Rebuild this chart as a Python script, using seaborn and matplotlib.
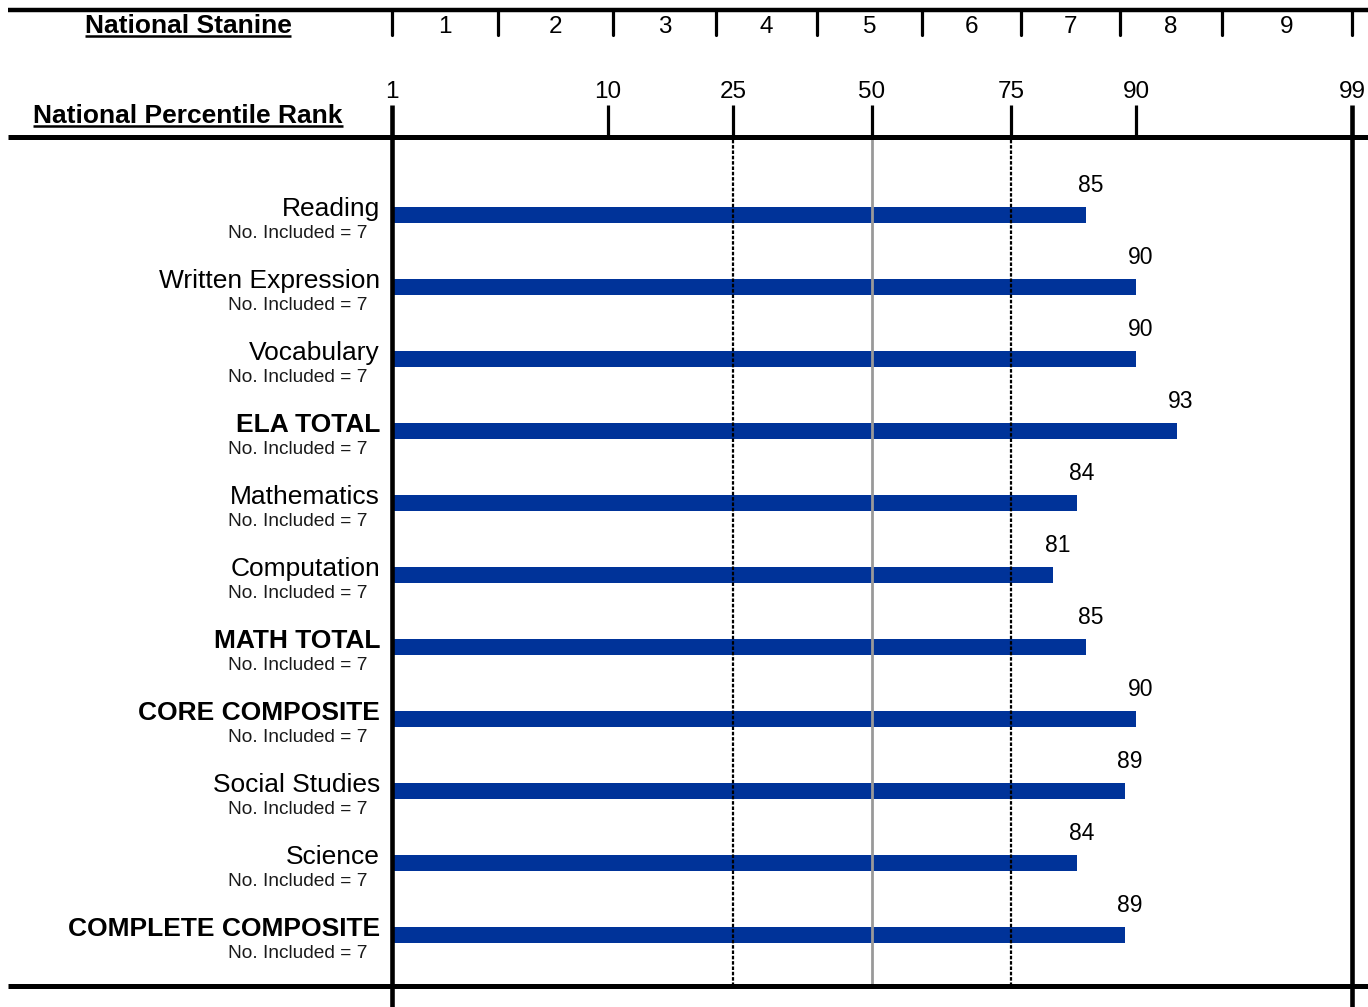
import numpy as np
import pandas as pd
import matplotlib
matplotlib.use("Agg")
import matplotlib.pyplot as plt
from matplotlib import transforms
from matplotlib.lines import Line2D
import seaborn as sns
from statistics import NormalDist

# ---------------- data ----------------
categories = ["Reading", "Written Expression", "Vocabulary", "ELA TOTAL",
              "Mathematics", "Computation", "MATH TOTAL", "CORE COMPOSITE",
              "Social Studies", "Science", "COMPLETE COMPOSITE"]
values = [85, 90, 90, 93, 84, 81, 85, 90, 89, 84, 89]
is_total = [False, False, False, True, False, False, True, True, False, False, True]
n_included = [7, 7, 7, 7, 7, 7, 7, 7, 7, 7, 7]
pr_ticks = [1, 10, 25, 50, 75, 90, 99]
stanine_bounds = [1, 3.5, 10.5, 22.5, 39.5, 59.5, 76.5, 88.5, 95.5, 99]
stanine_labels = ["1", "2", "3", "4", "5", "6", "7", "8", "9"]

BAR = "#003399"
W, H = 1368, 1007

sns.set_style("white")
plt.rcParams["font.family"] = ["Liberation Sans", "DejaVu Sans"]

_nd = NormalDist()
_ppf = np.vectorize(_nd.inv_cdf, otypes=[float])
_cdf = np.vectorize(_nd.cdf, otypes=[float])


def fwd(p):
    p = np.clip(np.asarray(p, dtype=float) / 100.0, 1e-7, 1 - 1e-7)
    return _ppf(p)


def inv(z):
    return _cdf(np.asarray(z, dtype=float)) * 100.0


fig = plt.figure(figsize=(W / 100, H / 100), dpi=100)
ax = fig.add_axes([392 / W, (H - 986) / H, (1352 - 392) / W, (986 - 137) / H])

df = pd.DataFrame({"category": categories, "value": values})
sns.barplot(data=df, x="value", y="category", orient="h", color=BAR,
            saturation=1, width=16 / 72, errorbar=None, edgecolor="none", ax=ax)

ax.set_xscale("function", functions=(fwd, inv))
ax.set_xlim(1, 99)
ax.set_ylim(10 + 51 / 72, -78 / 72)
ax.axis("off")


def fy(px):
    return 1 - px / H


bx = transforms.blended_transform_factory(ax.transData, fig.transFigure)
fxy = transforms.blended_transform_factory(fig.transFigure, ax.transData)
lab_off = transforms.offset_copy(ax.transData, fig=fig, x=4.5, y=0, units="dots")

# reference lines
for p in (25, 75):
    ax.axvline(p, color="black", lw=1.6, ls=(0, (1.6, 0.8)), zorder=3)
ax.axvline(50, color="#999999", lw=2.0, zorder=3)

# horizontal rules
for ypx, lw in ((10, 3.2), (137, 3.6), (986, 3.6)):
    fig.add_artist(Line2D([8 / W, 1], [fy(ypx)] * 2, transform=fig.transFigure,
                          color="black", lw=lw, solid_capstyle="butt"))

# PR ticks and labels
for p in pr_ticks:
    if p in (1, 99):
        y0, lw = 1007, 3.3
    else:
        y0, lw = 137, 2.3
    fig.add_artist(Line2D([p, p], [fy(105), fy(y0)], transform=bx, color="black",
                          lw=lw, solid_capstyle="butt"))
    fig.text(p, fy(98), str(p), transform=bx, ha="center", va="baseline",
             fontsize=17.5, color="black")

# stanine ticks and labels
for b in stanine_bounds:
    fig.add_artist(Line2D([b, b], [fy(10), fy(35)], transform=bx, color="black",
                          lw=2.3, solid_capstyle="round"))
for a, b, lab in zip(stanine_bounds[:-1], stanine_bounds[1:], stanine_labels):
    mid = float(inv((fwd(a) + fwd(b)) / 2))
    fig.text(mid, fy(33), lab, transform=bx, ha="center", va="baseline",
             fontsize=17.5, color="black")

# headers (underlined)
hdrs = []
for txt, base in (("National Stanine", 33), ("National Percentile Rank", 123)):
    t = fig.text(188 / W, fy(base), txt, ha="center", va="baseline",
                 fontsize=19, fontweight="bold", color="black")
    hdrs.append((t, base))

# bar value labels and category labels
for i, (cat, v, tot, n) in enumerate(zip(categories, values, is_total, n_included)):
    ax.text(v, i - 23 / 72, str(v), transform=lab_off, ha="center",
            va="baseline", fontsize=16.5, color="black")
    fig.text(380 / W, i + 1 / 72, cat, transform=fxy, ha="right", va="baseline",
             fontsize=19, fontweight="bold" if tot else "normal", color="black")
    fig.text(368 / W, i + 23 / 72, f"No. Included = {n}", transform=fxy,
             ha="right", va="baseline", fontsize=13.8, color="#1a1a1a")

fig.canvas.draw()
r = fig.canvas.get_renderer()
for t, base in hdrs:
    bb = t.get_window_extent(r)
    fig.add_artist(Line2D([bb.x0 / W, bb.x1 / W], [fy(base + 2.5)] * 2,
                          transform=fig.transFigure, color="black", lw=1.8,
                          solid_capstyle="butt"))

fig.savefig("out.png", dpi=100)
